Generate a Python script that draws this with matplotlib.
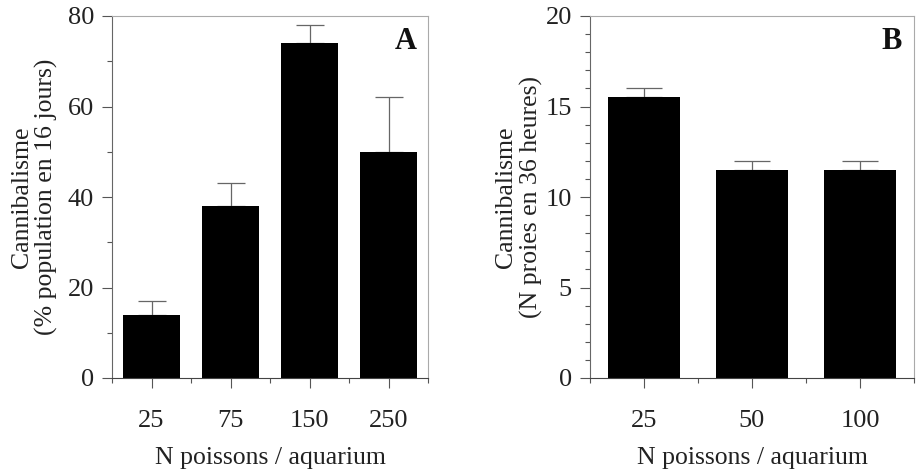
import matplotlib
matplotlib.use("Agg")
import matplotlib.pyplot as plt
from matplotlib.ticker import MultipleLocator, FixedLocator

plt.rcParams['font.family'] = ['Liberation Serif', 'DejaVu Serif']

# panel A
cats_a = ['25', '75', '150', '250']
vals_a = [14, 38, 74, 50]
errs_a = [3, 5.2, 4, 12]
# panel B
cats_b = ['25', '50', '100']
vals_b = [15.5, 11.5, 11.5]
errs_b = [0.5, 0.5, 0.5]

fig = plt.figure(figsize=(9.18, 4.71), dpi=100)
axA = fig.add_axes([112/918, 1-378/471, 316/918, 362/471])
axB = fig.add_axes([590/918, 1-378/471, 324/918, 362/471])


def draw_panel(ax, cats, vals, errs, width, cap, ymax, major, minor, ylab, letter, ylab_x):
    x = list(range(len(cats)))
    ax.bar(x, vals, width=width, color='black', zorder=2)
    ax.errorbar(x, vals, yerr=[[0]*len(vals), errs], fmt='none', ecolor='#666666',
                elinewidth=0.9, capsize=cap, capthick=0.9, zorder=1)
    ax.set_xlim(-0.5, len(cats) - 0.5)
    ax.set_ylim(0, ymax)
    ax.set_xticks(x)
    ax.set_xticklabels(cats)
    ax.xaxis.set_minor_locator(FixedLocator([i + 0.5 for i in range(-1, len(cats))]))
    ax.yaxis.set_major_locator(MultipleLocator(major))
    ax.yaxis.set_minor_locator(MultipleLocator(minor))
    ax.tick_params(axis='x', which='major', length=7, width=0.8, color='#555555',
                   pad=16, labelsize=19, labelcolor='#222222')
    ax.tick_params(axis='x', which='minor', length=3.5, width=0.8, color='#555555')
    ax.tick_params(axis='y', which='major', length=7, width=0.8, color='#555555',
                   pad=6, labelsize=19, labelcolor='#222222')
    ax.tick_params(axis='y', which='minor', length=3.5, width=0.8, color='#555555')
    for s in ['top', 'right']:
        ax.spines[s].set_color('#aaaaaa')
        ax.spines[s].set_linewidth(0.8)
    ax.spines['left'].set_color('#666666')
    ax.spines['bottom'].set_color('#444444')
    ax.spines['left'].set_linewidth(0.8)
    ax.spines['bottom'].set_linewidth(0.8)
    ax.set_xlabel('N poissons / aquarium', fontsize=18.5, color='#222222', labelpad=11)
    ax.set_ylabel(ylab, fontsize=18.5, color='#222222', linespacing=1.15)
    ax.yaxis.set_label_coords(ylab_x, 0.5)
    ax.text(0.93, 0.93, letter, transform=ax.transAxes, fontsize=22, fontweight='bold',
            ha='center', va='center', color='#111111')


draw_panel(axA, cats_a, vals_a, errs_a, 0.72, 10, 80, 20, 10,
           'Cannibalisme\n(% population en 16 jours)', 'A', -0.17)
draw_panel(axB, cats_b, vals_b, errs_b, 0.67, 13, 20, 5, 1,
           'Cannibalisme\n(N proies en 36 heures)', 'B', -0.145)

fig.savefig('out.png', dpi=100)
